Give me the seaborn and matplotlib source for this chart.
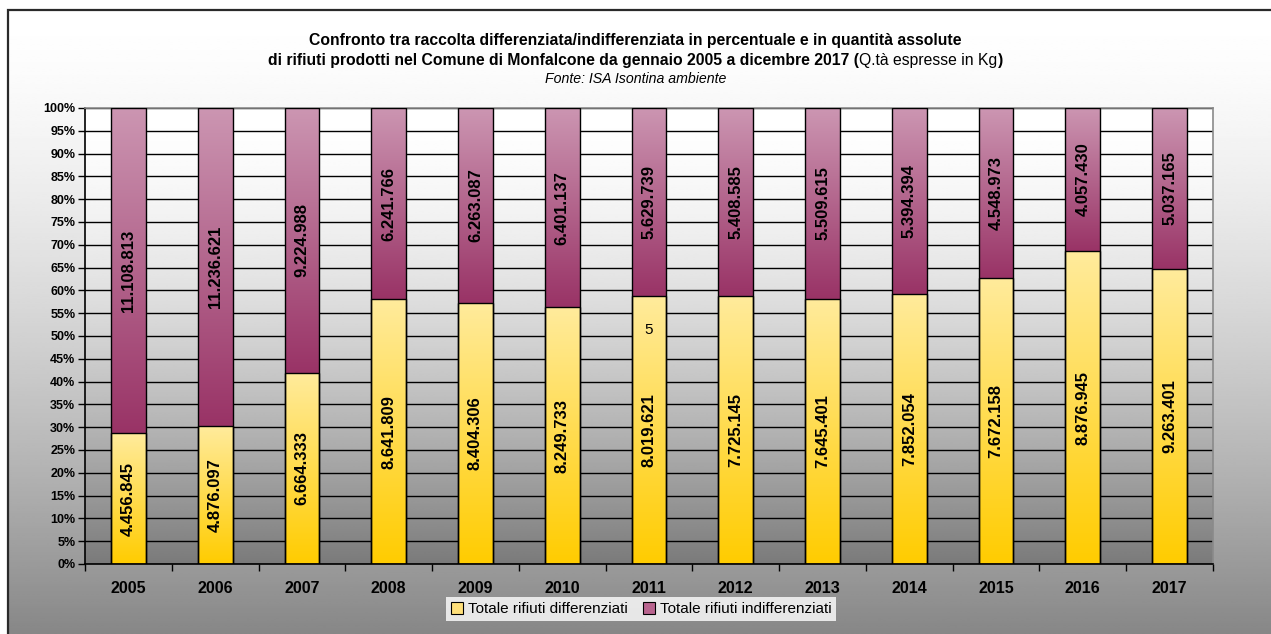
import numpy as np
import pandas as pd
import matplotlib
matplotlib.use("Agg")
import matplotlib.pyplot as plt
import seaborn as sns
from matplotlib.colors import LinearSegmentedColormap
from matplotlib.patches import Patch, Rectangle
from matplotlib.ticker import MultipleLocator, FixedLocator

# --- dati (Kg) ---
anni = ["2005", "2006", "2007", "2008", "2009", "2010", "2011",
        "2012", "2013", "2014", "2015", "2016", "2017"]
differenziati = [4456845, 4876097, 6664333, 8641809, 8404306, 8249733, 8019621,
                 7725145, 7645401, 7852054, 7672158, 8876945, 9263401]
indifferenziati = [11108813, 11236621, 9224988, 6241766, 6263087, 6401137, 5629739,
                   5408585, 5509615, 5394394, 4548973, 4057430, 5037165]

titolo_1 = "Confronto tra raccolta differenziata/indifferenziata in percentuale e in quantità assolute"
titolo_2 = [("di rifiuti prodotti nel Comune di Monfalcone da gennaio 2005 a dicembre 2017 (", "bold"),
            ("Q.tà espresse in Kg", "normal"),
            (")", "bold")]
fonte = "Fonte: ISA Isontina ambiente"
etichette_legenda = ["Totale rifiuti differenziati", "Totale rifiuti indifferenziati"]
nota_2011 = "5"

df = pd.DataFrame({"anno": anni, "diff": differenziati, "indiff": indifferenziati})
df["totale"] = df["diff"] + df["indiff"]
df["pct_diff"] = df["diff"] / df["totale"] * 100
df["pct_tot"] = 100.0

plt.rcParams["font.family"] = ["Liberation Sans", "DejaVu Sans"]

W, H = 1271, 634
fig = plt.figure(figsize=(W / 100, H / 100), dpi=100)
fig.patch.set_facecolor("white")

# sfondo della figura: sfumatura dal bianco al grigio, dentro la cornice
bg_ax = fig.add_axes([0, 0, 1, 1], zorder=-10)
bg_ax.set_xlim(0, 1)
bg_ax.set_ylim(0, 1)
bg_ax.axis("off")
t = np.linspace(0, 1, 256)
shade = 1 - 0.47 * (1 - t) ** 1.5
grad = np.repeat(shade[:, None], 2, axis=1)
x0f, y1f = 8 / W, 1 - 10 / H
bg_ax.imshow(grad, cmap="gray", vmin=0, vmax=1, origin="lower",
             extent=[x0f, 1, 0, y1f], aspect="auto", interpolation="bilinear")
bg_ax.add_patch(Rectangle((x0f, -0.05), 1.2, y1f + 0.05, fill=False,
                          edgecolor="#2a2a2a", linewidth=1.6, clip_on=False))

# area del grafico
ax = fig.add_axes([85 / W, 1 - 564 / H, 1128 / W, 456 / H])
ax.patch.set_visible(False)

sns.barplot(data=df, x="anno", y="pct_tot", color="#b06090", width=0.4,
            edgecolor="black", linewidth=1.0, ax=ax, zorder=3)
sns.barplot(data=df, x="anno", y="pct_diff", color="#ffe080", width=0.4,
            edgecolor="black", linewidth=1.0, ax=ax, zorder=3)

ax.set_xlim(-0.5, len(anni) - 0.5)
ax.set_ylim(0, 100)

# sfondo dell'area: sfumatura verticale
shade_p = 1 - 0.52 * (1 - t) ** 1.6
ax.imshow(np.repeat(shade_p[:, None], 2, axis=1), cmap="gray", vmin=0, vmax=1,
          origin="lower", extent=[-0.5, len(anni) - 0.5, 0, 100], aspect="auto",
          interpolation="bilinear", zorder=0)

cm_viola = LinearSegmentedColormap.from_list("viola", ["#993366", "#cc96b2"])
cm_giallo = LinearSegmentedColormap.from_list("giallo", ["#ffcc00", "#ffeb9c"])

n = len(anni)
patches = list(ax.patches)
viola = patches[:n]
gialli = patches[n:2 * n]
col = np.linspace(0, 1, 256)[:, None]
for i, p in enumerate(viola):
    x = p.get_x()
    w = p.get_width()
    im = ax.imshow(np.repeat(col, 2, axis=1), cmap=cm_viola, origin="lower",
                   extent=[x, x + w, df["pct_diff"][i], 100], aspect="auto",
                   interpolation="bilinear", zorder=2)
    im.set_clip_path(p)
    p.set_facecolor("none")
for i, p in enumerate(gialli):
    x = p.get_x()
    w = p.get_width()
    im = ax.imshow(np.repeat(col, 2, axis=1), cmap=cm_giallo, origin="lower",
                   extent=[x, x + w, 0, df["pct_diff"][i]], aspect="auto",
                   interpolation="bilinear", zorder=2)
    im.set_clip_path(p)
    p.set_facecolor("none")
    p.set_zorder(3.5)

ax.set_xlim(-0.5, n - 0.5)
ax.set_ylim(0, 100)


def fmt_it(v):
    return f"{v:,}".replace(",", ".")


for i in range(n):
    pd_ = df["pct_diff"][i]
    ax.text(i, pd_ / 2, fmt_it(df["diff"][i]), rotation=90, ha="center", va="center",
            fontsize=12, fontweight="bold", color="black", zorder=5)
    ax.text(i, (pd_ + 100) / 2, fmt_it(df["indiff"][i]), rotation=90, ha="center",
            va="center", fontsize=12, fontweight="bold", color="black", zorder=5)

ax.text(6, 51.3, nota_2011, ha="center", va="center", fontsize=11, zorder=5)

# griglia e assi
ax.yaxis.set_major_locator(MultipleLocator(5))
ax.yaxis.grid(True, color="black", linewidth=1.0, zorder=1)
ax.xaxis.grid(False)
ax.set_yticklabels([f"{int(v)}%" for v in ax.get_yticks()])
ax.tick_params(axis="y", which="major", direction="out", length=5, width=1,
               labelsize=9, pad=2, colors="black")
for lab in ax.get_yticklabels():
    lab.set_fontweight("bold")

ax.xaxis.set_minor_locator(FixedLocator(np.arange(-0.5, n, 1.0)))
ax.tick_params(axis="x", which="major", length=0, pad=12, labelsize=11.5)
ax.tick_params(axis="x", which="minor", direction="out", length=5, width=1, color="black")
for lab in ax.get_xticklabels():
    lab.set_fontweight("bold")
ax.set_xlabel("")
ax.set_ylabel("")

for s in ["left", "bottom"]:
    ax.spines[s].set_color("black")
    ax.spines[s].set_linewidth(1.2)
for s in ["top", "right"]:
    ax.spines[s].set_color("#8a8a8a")
    ax.spines[s].set_linewidth(1.2)
    ax.spines[s].set_visible(True)

# titolo
fig.text(0.5, 1 - 40 / H, titolo_1, ha="center", va="center", fontsize=11.3, fontweight="bold")
renderer = fig.canvas.get_renderer()
pezzi = [fig.text(0, 1 - 60 / H, s, ha="left", va="center", fontsize=11.3, fontweight=w)
         for s, w in titolo_2]
larg = [p.get_window_extent(renderer).width for p in pezzi]
xpix = W / 2 - sum(larg) / 2
for p, wd in zip(pezzi, larg):
    p.set_x(xpix / W)
    xpix += wd
fig.text(0.5, 1 - 79 / H, fonte, ha="center", va="center", fontsize=10.2, fontstyle="italic")

# legenda
handles = [Patch(facecolor="#ffe07a", edgecolor="black", linewidth=0.8),
           Patch(facecolor="#b8648e", edgecolor="black", linewidth=0.8)]
leg = fig.legend(handles, etichette_legenda, loc="center", ncol=2,
                 bbox_to_anchor=(641 / W, 1 - 609 / H), frameon=True, fancybox=False,
                 facecolor="white", edgecolor="white", fontsize=11,
                 handlelength=0.8, handleheight=0.8, handletextpad=0.3,
                 columnspacing=1.0, borderpad=0.35, borderaxespad=0)
leg.get_frame().set_linewidth(0)

fig.savefig("out.png", dpi=100)
